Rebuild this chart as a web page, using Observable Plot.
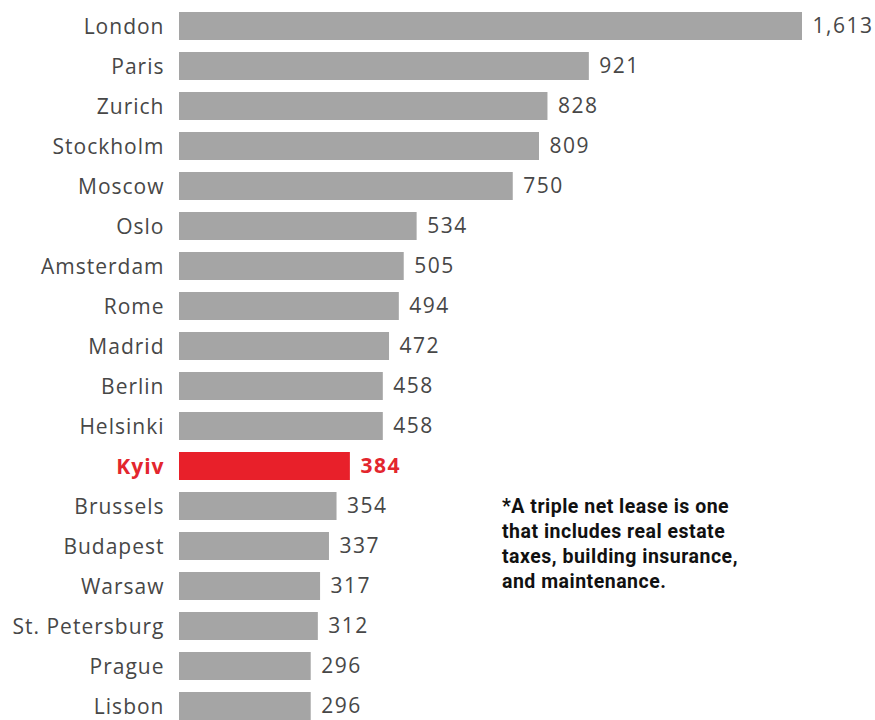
<!DOCTYPE html>
<html>
<head>
<meta charset="utf-8">
<script src="https://cdn.jsdelivr.net/npm/d3@7"></script>
<script src="https://cdn.jsdelivr.net/npm/@observablehq/plot@0.6"></script>
<style>
  html, body { margin: 0; padding: 0; background: #ffffff; }
  #wrap { position: relative; width: 875px; height: 720px; overflow: hidden; }
  #note {
    position: absolute; left: 502px; top: 494px;
    font-family: Roboto, "Noto Sans", sans-serif; font-weight: 700;
    font-size: 19.5px; line-height: 25px; color: #111; letter-spacing: 0.5px;
  }
</style>
</head>
<body>
<div id="wrap">
  <div id="chart"></div>
  <div id="note">*A triple net lease is one<br>that includes real estate<br>taxes, building insurance,<br>and maintenance.</div>
</div>
<script>
const cities = ["London","Paris","Zurich","Stockholm","Moscow","Oslo","Amsterdam","Rome","Madrid","Berlin","Helsinki","Kyiv","Brussels","Budapest","Warsaw","St. Petersburg","Prague","Lisbon"];
const values = [1613, 921, 828, 809, 750, 534, 505, 494, 472, 458, 458, 384, 354, 337, 317, 312, 296, 296];
const highlight = "Kyiv";

const data = cities.map((c, i) => ({city: c, value: values[i]}));
const others = data.filter(d => d.city !== highlight);
const hi = data.filter(d => d.city === highlight);
const grey = "#a5a5a5", red = "#e8202a", textGrey = "#474747", textRed = "#e3262e";
const font = "'Open Sans', sans-serif";

const labelOpts = {y: "city", text: "city", frameAnchor: "left", textAnchor: "end", dx: -15, dy: 1, fontSize: 21, className: "lbl"};
const valueOpts = {y: "city", x: "value", text: d => d3.format(",")(d.value), textAnchor: "start", dx: 10, dy: 0, fontSize: 21, className: "val"};

const chart = Plot.plot({
  width: 875,
  height: 726,
  marginTop: 6,
  marginBottom: 0,
  marginLeft: 179,
  marginRight: 73,
  x: {domain: [0, 1400], clamp: true, axis: null},
  y: {domain: cities, paddingInner: 0.3, paddingOuter: 0.15, axis: null},
  style: {fontFamily: font, background: "transparent"},
  marks: [
    Plot.barX(data, {y: "city", x: "value", fill: d => d.city === highlight ? red : grey}),
    Plot.text(others, {...labelOpts, fill: textGrey}),
    Plot.text(hi, {...labelOpts, fill: textRed, fontWeight: "bold"}),
    Plot.text(others, {...valueOpts, fill: textGrey}),
    Plot.text(hi, {...valueOpts, fill: textRed, fontWeight: "bold"})
  ]
});
chart.querySelectorAll("g.lbl").forEach(g => g.setAttribute("letter-spacing", "1"));
chart.querySelectorAll("g.val").forEach(g => g.setAttribute("letter-spacing", "1.5"));
document.getElementById("chart").append(chart);
</script>
</body>
</html>
